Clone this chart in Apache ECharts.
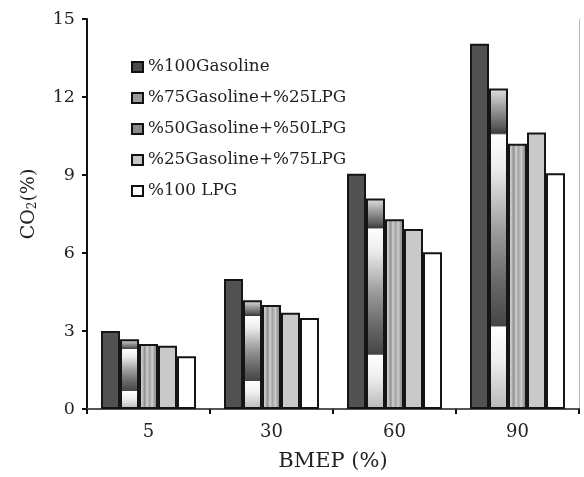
<!DOCTYPE html>
<html>
<head>
<meta charset="utf-8">
<script src="https://cdn.jsdelivr.net/npm/echarts@6/dist/echarts.min.js"></script>
<style>html,body{margin:0;padding:0;background:#fff}#c{width:584px;height:477px}</style>
</head>
<body>
<div id="c"></div>
<script>
var categories = ['5', '30', '60', '90'];
var seriesNames = ['%100Gasoline', '%75Gasoline+%25LPG', '%50Gasoline+%50LPG', '%25Gasoline+%75LPG', '%100 LPG'];
var gasoline100 = [3.0, 5.0, 9.05, 14.05];
var gas75lpg25 = [2.68, 4.18, 8.1, 12.33];
var gas50lpg50 = [2.5, 4.0, 7.3, 10.2];
var gas25lpg75 = [2.43, 3.7, 6.92, 10.63];
var lpg100 = [2.03, 3.5, 6.03, 9.07];
var yTicks = [0, 3, 6, 9, 12, 15];

var font = '"DejaVu Serif", "Liberation Serif", serif';
var banded = {
  type: 'linear', x: 0, y: 0, x2: 0, y2: 1,
  colorStops: [
    {offset: 0, color: '#e2e2e2'}, {offset: 0.12, color: '#5a5a5a'}, {offset: 0.14, color: '#3a3a3a'},
    {offset: 0.145, color: '#ffffff'}, {offset: 0.25, color: '#ececec'}, {offset: 0.45, color: '#9a9a9a'},
    {offset: 0.6, color: '#6a6a6a'}, {offset: 0.74, color: '#454545'}, {offset: 0.745, color: '#ffffff'},
    {offset: 0.85, color: '#eeeeee'}, {offset: 1, color: '#b8b8b8'}
  ]
};
var striped = {
  type: 'linear', x: 0, y: 0, x2: 1, y2: 0,
  colorStops: [
    {offset: 0, color: '#a0a0a0'}, {offset: 0.15, color: '#cfcfcf'}, {offset: 0.3, color: '#8e8e8e'},
    {offset: 0.42, color: '#d2d2d2'}, {offset: 0.55, color: '#a2a2a2'}, {offset: 0.7, color: '#cccccc'},
    {offset: 0.85, color: '#929292'}, {offset: 1, color: '#bdbdbd'}
  ]
};
var fills = ['#525252', banded, striped, '#c9c9c9', '#ffffff'];
var legendFills = ['#4a4a4a', '#9a9a9a', '#8a8a8a', '#c6c6c6', '#ffffff'];
var dataSets = [gasoline100, gas75lpg25, gas50lpg50, gas25lpg75, lpg100];

var series = dataSets.map(function (d, i) {
  return {
    name: seriesNames[i], type: 'bar', data: d, barWidth: 19, barGap: '0%',
    itemStyle: {color: fills[i], borderColor: '#151515', borderWidth: 2},
    emphasis: {disabled: true}
  };
});

var chart = echarts.init(document.getElementById('c'));
chart.setOption({
  animation: false,
  grid: {left: 87, right: 5, top: 19, bottom: 66},
  legend: {
    orient: 'vertical', left: 131, top: 57, padding: 0, itemWidth: 11, itemHeight: 10, itemGap: 11,
    icon: 'rect',
    textStyle: {fontFamily: font, fontSize: 16.8, color: '#222', lineHeight: 20},
    data: seriesNames.map(function (n, i) {
      return {name: n, itemStyle: {color: legendFills[i], borderColor: '#111', borderWidth: 2}};
    })
  },
  xAxis: [{
    type: 'category', data: categories,
    axisLine: {lineStyle: {color: '#111', width: 2}},
    axisTick: {show: true, length: 5, inside: false, lineStyle: {color: '#111', width: 2}},
    axisLabel: {fontFamily: font, fontSize: 18, color: '#222', margin: 14},
    name: 'BMEP (%)', nameLocation: 'middle', nameGap: 42,
    nameTextStyle: {fontFamily: font, fontSize: 21, color: '#222'}
  }, {
    type: 'category', data: categories, position: 'top',
    axisLine: {lineStyle: {color: '#555', width: 2}}, axisTick: {show: false}, axisLabel: {show: false}
  }],
  yAxis: [{
    type: 'value', min: yTicks[0], max: yTicks[yTicks.length - 1], interval: 3,
    axisLine: {show: true, lineStyle: {color: '#111', width: 2}},
    axisTick: {show: true, length: 5, lineStyle: {color: '#111', width: 2}},
    axisLabel: {fontFamily: font, fontSize: 17.5, color: '#222', margin: 12},
    splitLine: {show: false},
    name: '{a|CO}{s|2}{a|(%)}', nameLocation: 'middle', nameGap: 48, nameRotate: 90,
    nameTextStyle: {padding: [0, 0, 0, 20], rich: {
      a: {fontFamily: font, fontSize: 19, color: '#222'},
      s: {fontFamily: font, fontSize: 12, color: '#222', padding: [8, 0, 0, 0]}
    }}
  }, {
    type: 'value', min: 0, max: 15, interval: 3, position: 'right',
    axisLine: {show: true, lineStyle: {color: '#bbb', width: 1}},
    axisTick: {show: false}, axisLabel: {show: false}, splitLine: {show: false}
  }],
  series: series
});
</script>
</body>
</html>
